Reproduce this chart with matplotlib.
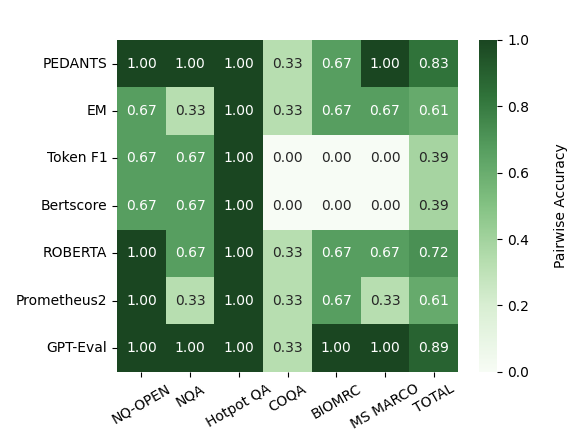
import matplotlib
matplotlib.use("Agg")
import matplotlib.pyplot as plt
import numpy as np
import seaborn as sns
from matplotlib.colors import LinearSegmentedColormap

metrics = ["PEDANTS", "EM", "Token F1", "Bertscore", "ROBERTA", "Prometheus2", "GPT-Eval"]
datasets = ["NQ-OPEN", "NQA", "Hotpot QA", "COQA", "BIOMRC", "MS MARCO", "TOTAL"]

pedants = [1.00, 1.00, 1.00, 0.33, 0.67, 1.00, 0.83]
em = [0.67, 0.33, 1.00, 0.33, 0.67, 0.67, 0.61]
token_f1 = [0.67, 0.67, 1.00, 0.00, 0.00, 0.00, 0.39]
bertscore = [0.67, 0.67, 1.00, 0.00, 0.00, 0.00, 0.39]
roberta = [1.00, 0.67, 1.00, 0.33, 0.67, 0.67, 0.72]
prometheus2 = [1.00, 0.33, 1.00, 0.33, 0.67, 0.33, 0.61]
gpt_eval = [1.00, 1.00, 1.00, 0.33, 1.00, 1.00, 0.89]

acc = np.array([pedants, em, token_f1, bertscore, roberta, prometheus2, gpt_eval])

# muted greens, a bit softer than plain "Greens"
greens = LinearSegmentedColormap.from_list("muted_greens", [
    (0.00, "#f7fcf5"),
    (0.20, "#d8eed2"),
    (0.33, "#b7deb0"),
    (0.50, "#84c283"),
    (0.67, "#579e60"),
    (0.83, "#30733a"),
    (1.00, "#1a4621"),
])

fig = plt.figure(figsize=(5.88, 4.48), dpi=100)
ax = fig.add_axes([0.199, 0.170, 0.580, 0.741])
cax = fig.add_axes([0.815, 0.170, 0.031, 0.741])

sns.heatmap(acc, ax=ax, cbar_ax=cax, cmap=greens, vmin=0, vmax=1,
            annot=True, fmt=".2f", xticklabels=datasets, yticklabels=metrics)
ax.set_xticklabels(datasets, rotation=30)
ax.set_yticklabels(metrics, rotation=0)
cax.set_ylabel("Pairwise Accuracy", labelpad=18)

fig.savefig("out.png", dpi=100)
